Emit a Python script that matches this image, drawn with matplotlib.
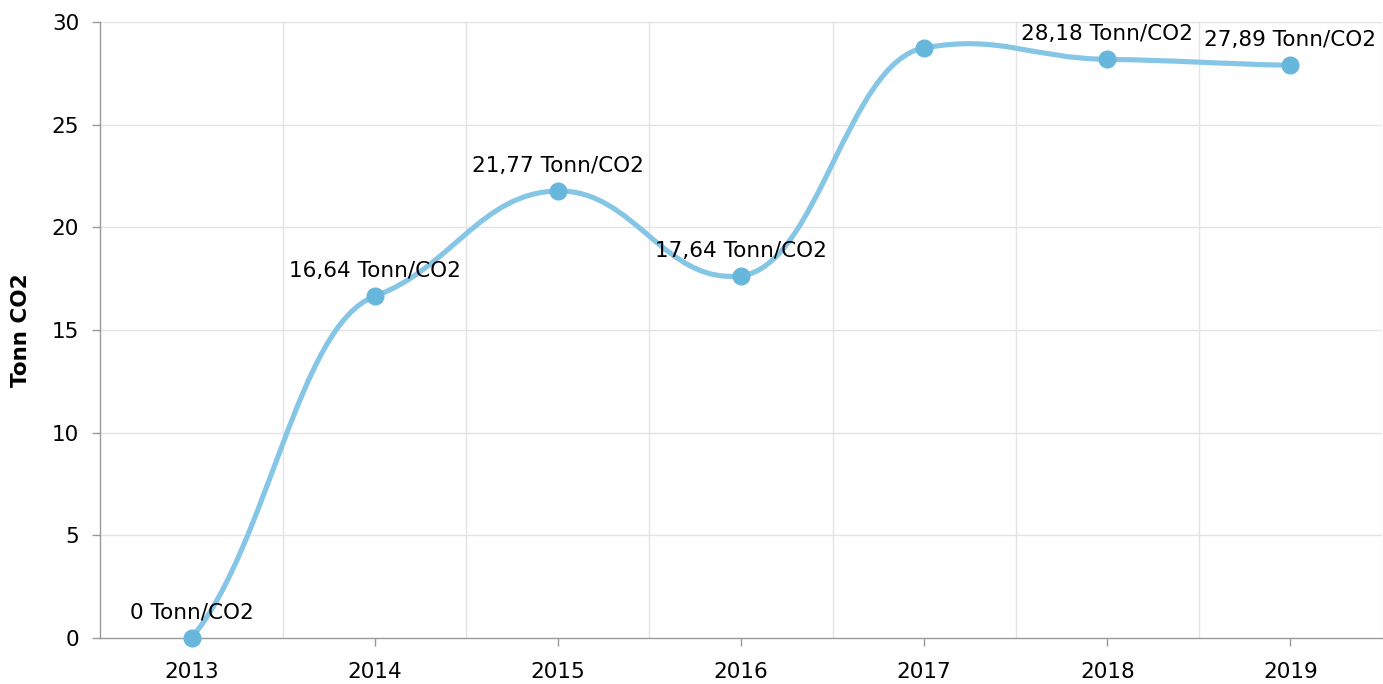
import matplotlib

matplotlib.use("Agg")
import matplotlib.pyplot as plt
import numpy as np
from matplotlib.patches import PathPatch
from matplotlib.path import Path

# Data
years = ["2013", "2014", "2015", "2016", "2017", "2018", "2019"]
values = [0.0, 16.64, 21.77, 17.64, 28.74, 28.18, 27.89]
labels = ["0 Tonn/CO2", "16,64 Tonn/CO2", "21,77 Tonn/CO2", "17,64 Tonn/CO2",
          "", "28,18 Tonn/CO2", "27,89 Tonn/CO2"]

LINE_COLOR = "#85c5e5"
MARKER_COLOR = "#67b7dc"
GRID_COLOR = "#e3e3e3"
AXIS_COLOR = "#999999"
FONT_SIZE = 15.5

plt.rcParams["font.family"] = ["DejaVu Sans"]


def smooth_path(xs, ys, handle=0.42, k_mid=0.3, k_end=0.65):
    # smoothed line: bezier segments with softened tangents at each point
    n = len(xs)
    slopes = []
    for i in range(n):
        if i == 0:
            slopes.append(k_end * (ys[1] - ys[0]) / (xs[1] - xs[0]))
        elif i == n - 1:
            slopes.append(k_end * (ys[-1] - ys[-2]) / (xs[-1] - xs[-2]))
        else:
            slopes.append(k_mid * (ys[i + 1] - ys[i - 1]) / (xs[i + 1] - xs[i - 1]))
    verts = [(xs[0], ys[0])]
    codes = [Path.MOVETO]
    for i in range(n - 1):
        dx = (xs[i + 1] - xs[i]) * handle
        verts += [(xs[i] + dx, ys[i] + slopes[i] * dx),
                  (xs[i + 1] - dx, ys[i + 1] - slopes[i + 1] * dx),
                  (xs[i + 1], ys[i + 1])]
        codes += [Path.CURVE4] * 3
    return Path(verts, codes)


fig = plt.figure(figsize=(13.83, 6.84), dpi=100)
ax = fig.add_axes([100 / 1383, 46 / 684, 1282 / 1383, 616 / 684])

x = np.arange(len(years))
ax.set_xlim(-0.5, len(years) - 0.5)
ax.set_ylim(0, 30)

# grid: horizontal at ticks, vertical at category boundaries
for yv in range(5, 31, 5):
    ax.axhline(yv, color=GRID_COLOR, lw=1, zorder=0)
for xb in np.arange(0.5, len(years) + 0.5, 1):
    ax.axvline(xb, color=GRID_COLOR, lw=1, zorder=0)

ax.add_patch(PathPatch(smooth_path(x, values), facecolor="none", edgecolor=LINE_COLOR,
                       lw=3.7, capstyle="round", zorder=3, clip_on=False))
ax.plot(x, values, "o", color=MARKER_COLOR, ms=12, zorder=4, clip_on=False)

for xi, v, lab in zip(x, values, labels):
    if lab:
        ax.annotate(lab, (xi, v), xytext=(0, 18), textcoords="offset points",
                    ha="center", va="center", fontsize=FONT_SIZE, color="#000000", zorder=5)

ax.set_xticks(x)
ax.set_xticklabels(years)
ax.set_yticks(range(0, 31, 5))
ax.tick_params(axis="both", colors=AXIS_COLOR, labelcolor="#000000", labelsize=FONT_SIZE,
               length=6, width=1)
ax.tick_params(axis="x", pad=11)
ax.tick_params(axis="y", pad=9)

for side in ["top", "right"]:
    ax.spines[side].set_visible(False)
for side in ["left", "bottom"]:
    ax.spines[side].set_color(AXIS_COLOR)
    ax.spines[side].set_linewidth(1)

ax.set_ylabel("Tonn CO2", fontsize=FONT_SIZE, fontweight="bold")
ax.yaxis.set_label_coords(-0.054, 0.5)

fig.savefig("out.png", dpi=100)
